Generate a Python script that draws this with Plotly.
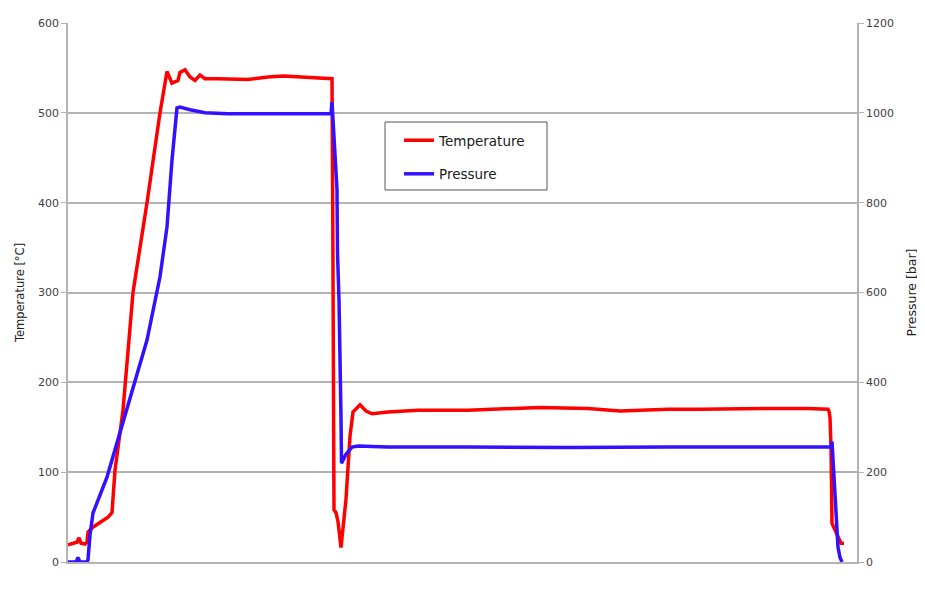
import plotly.graph_objects as go

# time axis (arbitrary units, x axis not labelled)
temp_t = [0, 5, 9, 11, 13, 17, 19, 20, 24, 32, 40, 44, 47, 55, 65, 79, 92, 99,
          104, 110, 112, 117, 122, 127, 132, 137, 150, 180, 200, 215, 230, 250, 262,
          264, 264.7, 265.5, 266, 268, 270, 273, 278, 282, 285, 292, 298, 304, 320, 350,
          400, 472, 520, 552, 600, 632, 680, 712, 740, 760, 761, 762, 763, 764, 766,
          769, 773, 776]
temp_vals = [19, 21, 22, 27, 21, 20, 22, 33, 38, 44, 50, 55, 102, 169, 300, 400, 500, 546,
             533, 536, 545, 548, 540, 536, 542, 538, 538, 537, 540, 541, 540, 538, 538,
             538, 400, 120, 58, 55, 45, 16, 70, 140, 167, 175, 168, 165, 167, 169,
             169, 172, 171, 168, 170, 170, 171, 171, 171, 170, 168, 161, 128, 43, 38,
             30, 21, 21]

pres_t = [0, 8, 10, 12, 19, 20, 22, 25, 39, 52, 65, 79, 92, 99, 104, 109, 112, 122,
          137, 160, 200, 240, 263, 264, 267, 269, 269.5, 271, 273, 273.5, 278, 284, 290,
          320, 400, 500, 600, 700, 763, 764, 766, 768, 770, 772, 774]
pres_vals = [0, 0, 10, 0, 0, 5, 60, 109, 189, 287, 390, 494, 635, 746, 895, 1011, 1013, 1007,
             1000, 998, 998, 998, 998, 1024, 889, 829, 688, 583, 323, 220, 240, 256, 258,
             256, 256, 255, 256, 256, 256, 268, 183, 94, 33, 10, 0]

temp_ticks = [0, 100, 200, 300, 400, 500, 600]
pres_ticks = [0, 200, 400, 600, 800, 1000, 1200]

FONT = "DejaVu Sans"
GRID = "#b3b3b3"
TXT = "#404040"

fig = go.Figure()
fig.add_trace(go.Scatter(x=temp_t, y=temp_vals, mode="lines", name="Temperature",
                         line=dict(color="#ff0000", width=3.5), legendgroup="a"))
fig.add_trace(go.Scatter(x=pres_t, y=pres_vals, mode="lines", name="Pressure",
                         line=dict(color="#3311ff", width=3.5), yaxis="y2", legendgroup="b"))

# legend frame
fig.add_shape(type="rect", xref="paper", yref="paper",
              x0=0.4018, x1=0.6071, y0=0.6902, y1=0.8163,
              line=dict(color="#555555", width=1), fillcolor="white", layer="above")

fig.update_layout(
    width=925, height=610,
    margin=dict(l=60, r=76, t=15, b=56),
    plot_bgcolor="white", paper_bgcolor="white",
    font=dict(family=FONT, size=11, color=TXT),
    xaxis=dict(range=[0, 789], showgrid=False, zeroline=False, showticklabels=False,
               ticks="", showline=True, linecolor=GRID, linewidth=1.5),
    yaxis=dict(range=[0, 600], tickvals=temp_ticks, showgrid=True, gridcolor=GRID,
               gridwidth=1.5, zeroline=False, showline=True, linecolor=GRID, linewidth=1.5,
               ticks="outside", ticklen=5, tickcolor=GRID, tickfont=dict(size=11, color=TXT),
               automargin=False,
               title=dict(text="Temperature [°C]", font=dict(size=11.5, color="#202020"), standoff=11)),
    yaxis2=dict(range=[0, 1200], tickvals=pres_ticks, overlaying="y", side="right",
                showgrid=False, zeroline=False, showline=True, linecolor=GRID, linewidth=1.5,
                ticks="outside", ticklen=5, tickcolor=GRID, tickfont=dict(size=11, color=TXT),
                automargin=False,
                title=dict(text="Pressure [bar]", font=dict(size=12.5, color="#202020"), standoff=14)),
    legend=dict(x=0.4195, y=0.8108, xanchor="left", yanchor="top",
                bgcolor="rgba(0,0,0,0)", borderwidth=0,
                font=dict(family=FONT, size=13.5, color="#202020"),
                tracegroupgap=13),
    showlegend=True,
)

fig.write_html("out.html")
